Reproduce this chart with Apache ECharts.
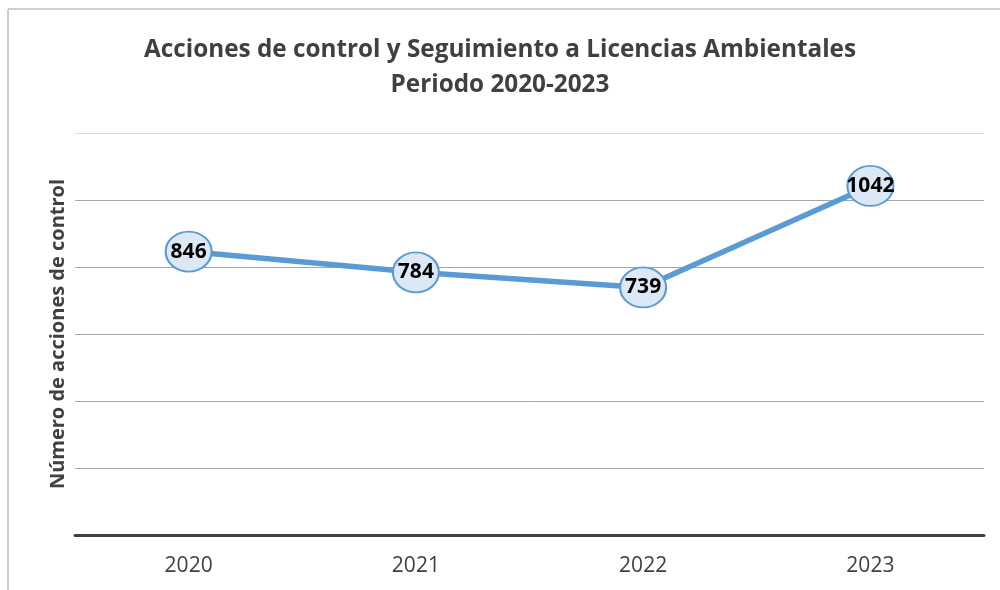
<!DOCTYPE html>
<html><head><meta charset="utf-8">
<script src="https://cdn.jsdelivr.net/npm/echarts@6/dist/echarts.min.js"></script>
<style>html,body{margin:0;padding:0;background:#fff}#c{width:1000px;height:590px}</style>
</head><body><div id="c"></div>
<script>
const categories = ['2020', '2021', '2022', '2023'];
const values = [846, 784, 739, 1042];
const titleLines = ['Acciones de control y Seguimiento a Licencias Ambientales', 'Periodo 2020-2023'];
const yAxisName = 'Número de acciones de control';

const chart = echarts.init(document.getElementById('c'));
const font = '"Open Sans", sans-serif';
chart.setOption({
  backgroundColor: '#fff',
  animation: false,
  title: {
    text: titleLines.join('\n'),
    left: 'center', top: 28,
    textStyle: { fontFamily: font, fontSize: 24.3, fontWeight: 'bold', color: '#404040', lineHeight: 35 }
  },
  graphic: [
    { type: 'line', shape: { x1: 8, y1: 9, x2: 1000, y2: 9 }, style: { stroke: '#bfbfbf', lineWidth: 1.5 } },
    { type: 'line', shape: { x1: 8, y1: 9, x2: 8, y2: 590 }, style: { stroke: '#bfbfbf', lineWidth: 1.5 } }
  ],
  grid: { left: 75, right: 16, top: 133, bottom: 55 },
  xAxis: {
    type: 'category', data: categories, boundaryGap: true,
    axisLine: { lineStyle: { color: '#404040', width: 3 } },
    axisTick: { show: false },
    axisLabel: { fontFamily: font, fontSize: 21, color: '#404040', margin: 21 }
  },
  yAxis: {
    type: 'value', min: 0, max: 1200, interval: 200,
    name: yAxisName, nameLocation: 'middle', nameGap: 7,
    nameTextStyle: { fontFamily: font, fontSize: 20, fontWeight: 'bold', color: '#404040' },
    axisLabel: { show: false }, axisLine: { show: false }, axisTick: { show: false },
    splitLine: { lineStyle: { color: ['#a6a6a6','#a6a6a6','#a6a6a6','#a6a6a6','#a6a6a6','#a6a6a6','#d9d9d9'], width: 1 } }
  },
  series: [{
    type: 'line', data: values,
    symbol: 'circle', symbolSize: [46, 40],
    lineStyle: { color: '#5b9bd5', width: 5.5 },
    itemStyle: { color: '#dce8f5', borderColor: '#5b9bd5', borderWidth: 2 },
    label: { show: true, position: 'inside', fontFamily: font, fontSize: 21, fontWeight: 'bold', color: '#000' }
  }]
});
</script></body></html>
